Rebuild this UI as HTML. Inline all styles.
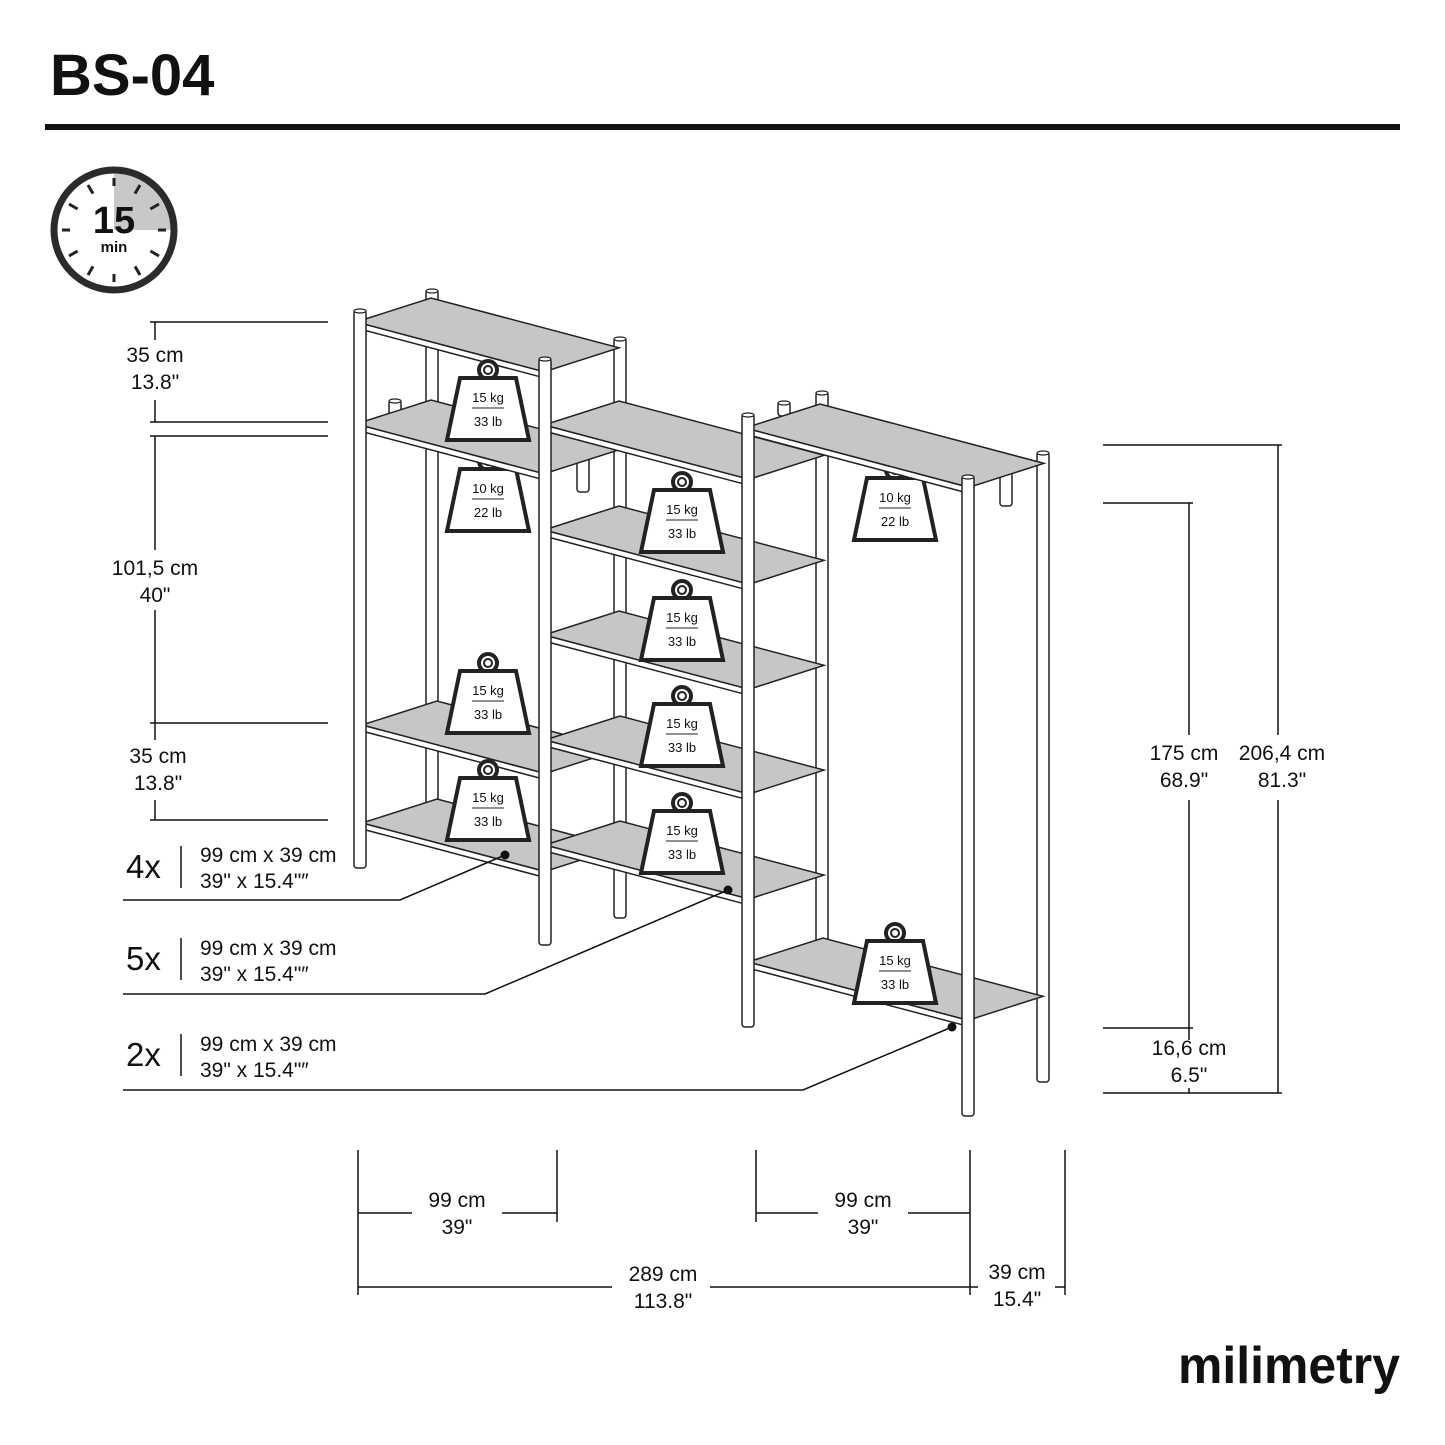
<!DOCTYPE html>
<html><head><meta charset="utf-8"><style>
html,body{margin:0;padding:0;background:#fff}
svg{display:block}
text{font-family:"Liberation Sans",sans-serif;fill:#111}
</style></head><body>
<svg id="s" width="1445" height="1445" viewBox="0 0 1445 1445" xmlns="http://www.w3.org/2000/svg">
<rect width="1445" height="1445" fill="#fff"/>
<text x="50" y="95" font-size="58" font-weight="bold">BS-04</text>
<rect x="45" y="124" width="1355" height="6" fill="#111"/>
<clipPath id="cc"><circle cx="114" cy="230" r="58"/></clipPath>
<rect x="114" y="170" width="60" height="60" fill="#c8c8c8" clip-path="url(#cc)"/>
<circle cx="114" cy="230" r="60" fill="none" stroke="#2b2b2b" stroke-width="7"/>
<g stroke="#222" stroke-width="3" id="ticks"></g>
<text x="114" y="233" font-size="38" font-weight="bold" text-anchor="middle">15</text>
<text x="114" y="252" font-size="15" font-weight="bold" text-anchor="middle">min</text>
<g id="draw" font-size="13" text-anchor="middle"></g>
<g id="wts" font-size="13" text-anchor="middle"></g>
<g stroke="#111" stroke-width="1.5" fill="none">
<path d="M150 322H328M150 422H328M150 436H328M150 723H328M150 820H328"/>
<path d="M155 322V340M155 400V422M155 436V550M155 610V723M155 723V740M155 800V820"/>
<path d="M1103 445H1282M1103 503H1193M1103 1028H1193M1103 1093H1282"/>
<path d="M1189 503V735M1189 800V1028M1189 1028V1040M1189 1088V1093M1278 445V735M1278 800V1093"/>
<path d="M358 1150V1295M557 1150V1222M756 1150V1222M970 1150V1295M1065 1150V1295"/>
<path d="M358 1213H412M502 1213H557M756 1213H818M908 1213H970M358 1287H612M710 1287H970M970 1287H978M1055 1287H1065"/>
<path d="M181 846V888M181 938V980M181 1034V1076"/>
<path d="M123 900H400L505 855M123 994H485L728 890M123 1090H803L952 1027"/>
</g>
<circle cx="505" cy="855" r="4.5" fill="#111"/><circle cx="728" cy="890" r="4.5" fill="#111"/><circle cx="952" cy="1027" r="4.5" fill="#111"/>
<g font-size="21" text-anchor="middle">
<text x="155" y="362">35 cm</text><text x="155" y="389">13.8"</text>
<text x="155" y="575">101,5 cm</text><text x="155" y="602">40"</text>
<text x="158" y="763">35 cm</text><text x="158" y="790">13.8"</text>
<text x="1184" y="760">175 cm</text><text x="1184" y="787">68.9"</text>
<text x="1282" y="760">206,4 cm</text><text x="1282" y="787">81.3"</text>
<text x="1189" y="1055">16,6 cm</text><text x="1189" y="1082">6.5"</text>
<text x="457" y="1207">99 cm</text><text x="457" y="1234">39"</text>
<text x="863" y="1207">99 cm</text><text x="863" y="1234">39"</text>
<text x="663" y="1281">289 cm</text><text x="663" y="1308">113.8"</text>
<text x="1017" y="1279">39 cm</text><text x="1017" y="1306">15.4"</text>
</g>
<g font-size="21">
<text x="200" y="862">99 cm x 39 cm</text><text x="200" y="888">39" x 15.4"″</text>
<text x="200" y="955">99 cm x 39 cm</text><text x="200" y="981">39" x 15.4"″</text>
<text x="200" y="1051">99 cm x 39 cm</text><text x="200" y="1077">39" x 15.4"″</text>
</g>
<g font-size="33"><text x="126" y="878">4x</text><text x="126" y="970">5x</text><text x="126" y="1066">2x</text></g>
<text x="1178" y="1383" font-size="52" font-weight="bold" textLength="222" lengthAdjust="spacingAndGlyphs">milimetry</text>
</svg>
<script>
var NS="http://www.w3.org/2000/svg";
function el(p,t,a){var e=document.createElementNS(NS,t);for(var k in a)e.setAttribute(k,a[k]);p.appendChild(e);return e;}
var tk=document.getElementById('ticks');
for(var i=0;i<12;i++){var a=i*Math.PI/6;var r1=i%3==0?44:42,r2=52;
el(tk,'line',{x1:114+r1*Math.sin(a),y1:230-r1*Math.cos(a),x2:114+r2*Math.sin(a),y2:230-r2*Math.cos(a)});}
var g=document.getElementById('draw');
var W=document.getElementById('wts');
var S=0.265,DX=75,DY=-24;
function post(x,y1,y2){el(g,'rect',{x:x-6,y:y1,width:12,height:y2-y1,rx:3,fill:'#fff',stroke:'#222','stroke-width':1.5});
el(g,'ellipse',{cx:x,cy:y1+1,rx:6,ry:2,fill:'#fff',stroke:'#222','stroke-width':1.2});}
function shelf(x,y,w){var yr=y+w*S;
el(g,'polygon',{points:[x,y,x+DX,y+DY,x+w+DX,yr+DY,x+w,yr].join(' '),fill:'#c6c6c6',stroke:'#222','stroke-width':1.5});
el(g,'polygon',{points:[x,y,x+w,yr,x+w,yr+6,x,y+6].join(' '),fill:'#fff',stroke:'#222','stroke-width':1.5});}
function wt(P,cx,ry,kg,lb){
el(P,'circle',{cx:cx,cy:ry,r:9,fill:'#fff',stroke:'#222','stroke-width':4});
el(P,'circle',{cx:cx,cy:ry,r:4,fill:'#fff',stroke:'#222','stroke-width':2});
el(P,'polygon',{points:[cx-28,ry+8,cx+28,ry+8,cx+41,ry+70,cx-41,ry+70].join(' '),fill:'#fff',stroke:'#222','stroke-width':4});
el(P,'line',{x1:cx-16,y1:ry+38,x2:cx+16,y2:ry+38,stroke:'#222','stroke-width':1});
var t=el(P,'text',{x:cx,y:ry+32});t.textContent=kg;
var u=el(P,'text',{x:cx,y:ry+56});u.textContent=lb;}
post(432,290,822);post(620,338,918);post(822,392,942);post(1043,452,1082);post(395,400,420);post(784,402,416);post(583,454,492);post(1006,462,506);
wt(g,488,461,'10 kg','22 lb');wt(g,895,470,'10 kg','22 lb');
shelf(356,322,188);shelf(356,424,188);shelf(362,725,183);shelf(362,823,183);
shelf(544,425,205);shelf(544,530,205);shelf(544,635,205);shelf(545,740,204);shelf(545,845,204);
shelf(745,428,224);shelf(748,962,220);
post(360,310,868);post(545,358,945);post(748,414,1027);post(968,476,1116);
wt(W,488,370,'15 kg','33 lb');
wt(W,682,482,'15 kg','33 lb');wt(W,682,590,'15 kg','33 lb');wt(W,682,696,'15 kg','33 lb');wt(W,682,803,'15 kg','33 lb');
wt(W,488,663,'15 kg','33 lb');wt(W,488,770,'15 kg','33 lb');wt(W,895,933,'15 kg','33 lb');
</script>
</body></html>
